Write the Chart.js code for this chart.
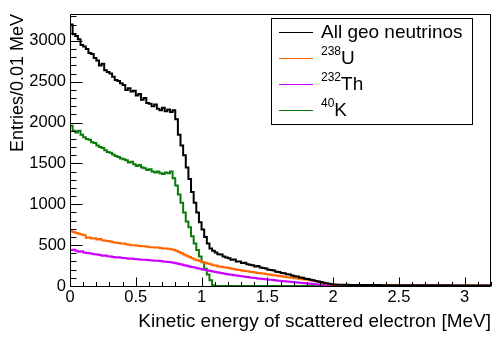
<!DOCTYPE html>
<html>
<head>
<meta charset="utf-8">
<script src="https://cdn.jsdelivr.net/npm/chart.js@4.4.1/dist/chart.umd.min.js"></script>
<style>
  html, body { margin: 0; padding: 0; background: #fff; }
</style>
</head>
<body>
<canvas id="geoChart" width="492" height="338"></canvas>
<script>
// histogram binning (one per 0.02 MeV)
const binWidth = 0.02;
const xMax = 3.2;
const yMax = 3330;
const xTickValues = [0, 0.5, 1, 1.5, 2, 2.5, 3];
const yTickValues = [0, 500, 1000, 1500, 2000, 2500, 3000];

const allGeo = [
    3150, 3200, 3080, 3060, 3020, 2950, 2930, 2900, 2850, 2840,
    2790, 2760, 2700, 2720, 2640, 2620, 2600, 2560, 2520, 2510,
    2480, 2460, 2400, 2420, 2380, 2390, 2330, 2350, 2280, 2300,
    2240, 2230, 2200, 2220, 2170, 2150, 2180, 2140, 2160, 2130,
    2150, 2040, 1850, 1720, 1600, 1450, 1310, 1150, 1020, 900,
    780, 690, 600, 520, 460, 430, 410, 390, 385, 360,
    350, 340, 320, 325, 300, 300, 280, 285, 265, 260,
    255, 240, 245, 225, 220, 215, 200, 195, 190, 175,
    170, 160, 155, 145, 140, 130, 120, 115, 105, 100,
    90, 85, 75, 70, 60, 55, 48, 40, 35, 28,
    22, 18, 16, 15, 15, 14, 14, 13, 13, 13,
    12, 12, 12, 12, 11, 11, 11, 11, 11, 10,
    10, 10, 10, 10, 10, 10, 9, 9, 9, 9,
    9, 9, 9, 9, 9, 8, 8, 8, 8, 8,
    8, 8, 8, 8, 8, 8, 7, 7, 7, 7,
    7, 7, 7, 7, 7, 7, 7, 6, 6, 6
];

const uranium = [
    680, 670, 660, 650, 640, 630, 620, 590, 595, 580,
    585, 570, 575, 560, 555, 550, 545, 535, 530, 525,
    520, 520, 510, 505, 500, 500, 495, 490, 485, 485,
    480, 475, 475, 470, 470, 465, 460, 460, 455, 450,
    445, 430, 415, 400, 385, 370, 355, 340, 325, 315,
    305, 295, 285, 275, 265, 255, 250, 240, 235, 230,
    225, 220, 212, 208, 200, 195, 190, 185, 180, 175,
    170, 165, 160, 155, 152, 148, 142, 138, 132, 128,
    123, 118, 113, 108, 104, 100, 95, 92, 88, 84,
    80, 75, 70, 64, 58, 52, 45, 38, 32, 25,
    20, 16, 14, 13, 13, 12, 12, 11, 11, 11,
    10, 10, 10, 10, 9, 9, 9, 9, 9, 9,
    8, 8, 8, 8, 8, 8, 8, 7, 7, 7,
    7, 7, 7, 7, 7, 7, 6, 6, 6, 6,
    6, 6, 6, 6, 6, 6, 6, 5, 5, 5,
    5, 5, 5, 5, 5, 5, 5, 5, 5, 5
];

const thorium = [
    450, 440, 445, 430, 420, 425, 410, 405, 400, 395,
    390, 385, 380, 370, 372, 365, 360, 355, 350, 352,
    345, 342, 340, 335, 338, 330, 328, 325, 322, 320,
    318, 315, 312, 310, 308, 305, 300, 298, 295, 290,
    285, 278, 270, 262, 255, 248, 240, 233, 226, 218,
    210, 203, 196, 190, 183, 176, 170, 164, 158, 152,
    147, 142, 137, 132, 127, 122, 118, 113, 109, 105,
    101, 97, 93, 89, 86, 82, 78, 75, 72, 68,
    65, 62, 58, 55, 52, 48, 45, 42, 39, 36,
    33, 30, 27, 24, 21, 18, 15, 12, 10, 8,
    6, 5, 5, 4, 4, 4, 4, 3, 3, 3,
    3, 3, 3, 3, 3, 3, 3, 3, 3, 3,
    3, 3, 3, 3, 2, 2, 2, 2, 2, 2,
    2, 2, 2, 2, 2, 2, 2, 2, 2, 2,
    2, 2, 2, 2, 2, 2, 2, 2, 2, 2,
    2, 2, 2, 2, 2, 2, 2, 2, 2, 2
];

const potassium = [
    2000, 1960, 1900, 1880, 1900, 1850, 1820, 1800, 1790, 1760,
    1750, 1720, 1700, 1690, 1660, 1640, 1630, 1610, 1590, 1580,
    1560, 1550, 1540, 1510, 1520, 1490, 1470, 1480, 1450, 1440,
    1420, 1430, 1400, 1390, 1400, 1380, 1370, 1390, 1380, 1400,
    1320, 1230, 1120, 1020, 900, 790, 720, 610, 520, 440,
    360, 290, 210, 140, 70, 10, 0, 0, 0, 0,
    0, 0, 0, 0, 0, 0, 0, 0, 0, 0,
    0, 0, 0, 0, 0, 0, 0, 0, 0, 0,
    0, 0, 0, 0, 0, 0, 0, 0, 0, 0,
    0, 0, 0, 0, 0, 0, 0, 0, 0, 0,
    0, 0, 0, 0, 0, 0, 0, 0, 0, 0,
    0, 0, 0, 0, 0, 0, 0, 0, 0, 0,
    0, 0, 0, 0, 0, 0, 0, 0, 0, 0,
    0, 0, 0, 0, 0, 0, 0, 0, 0, 0,
    0, 0, 0, 0, 0, 0, 0, 0, 0, 0,
    0, 0, 0, 0, 0, 0, 0, 0, 0, 0
];

// legend text: superscript part + main part
const legendSup = ['', '238', '232', '40'];
const legendMain = ['All geo neutrinos', 'U', 'Th', 'K'];
const seriesColors = ['#000000', '#ff6600', '#cc00ff', '#0a7a0a'];

const FONT = '"Liberation Sans", Arial, Helvetica, sans-serif';
Chart.defaults.font.family = FONT;
Chart.defaults.color = '#000';

// bin low edges + closing point at the right end, drawn as steps
function toSteps(values) {
    const pts = values.map((v, i) => ({ x: i * binWidth, y: v }));
    pts.push({ x: xMax, y: values[values.length - 1] });
    return pts;
}

// ROOT-style inward ticks, frame and legend box
const rootAxes = {
    id: 'rootAxes',
    afterDraw(chart) {
        const { ctx, chartArea: a, scales: { x, y } } = chart;
        const L = Math.round(a.left) + 0.5, R = Math.round(a.right) - 0.5;
        const T = Math.round(a.top) + 0.5, B = Math.round(a.bottom) + 0.5;
        ctx.save();
        ctx.strokeStyle = '#000';
        ctx.lineWidth = 1;
        ctx.beginPath();
        ctx.moveTo(L, T); ctx.lineTo(R, T); ctx.lineTo(R, B); ctx.lineTo(L, B); ctx.closePath();
        for (let k = 0; k * 100 <= yMax; k++) {
            const py = Math.round(y.getPixelForValue(k * 100)) + 0.5;
            const len = k % 5 === 0 ? 12 : 6;
            ctx.moveTo(L, py); ctx.lineTo(L + len, py);
        }
        for (let k = 0; k <= 32; k++) {
            const px = Math.round(x.getPixelForValue(k / 10)) + 0.5;
            const len = k % 5 === 0 ? 9 : 4.5;
            ctx.moveTo(px, B); ctx.lineTo(px, B - len);
        }
        ctx.stroke();

        // legend
        const bx = 271.5, by = 18.5, bw = 201, bh = 106, rowH = 26;
        ctx.fillStyle = '#fff';
        ctx.fillRect(bx, by, bw, bh);
        ctx.strokeRect(bx, by, bw, bh);
        chart.data.datasets.forEach((ds, i) => {
            const cy = 32 + i * rowH;
            ctx.strokeStyle = ds.borderColor;
            ctx.lineWidth = 1.2;
            ctx.beginPath();
            ctx.moveTo(279, cy + 0.5); ctx.lineTo(313, cy + 0.5);
            ctx.stroke();
            ctx.fillStyle = '#000';
            ctx.textBaseline = 'middle';
            let tx = 321;
            if (legendSup[i]) {
                ctx.font = '12px ' + FONT;
                ctx.fillText(legendSup[i], tx, cy - 6);
                tx += ctx.measureText(legendSup[i]).width;
            }
            ctx.font = '19px ' + FONT;
            ctx.fillText(legendMain[i], tx, cy + 1);
        });
        ctx.restore();
    }
};

new Chart(document.getElementById('geoChart'), {
    type: 'line',
    data: {
        datasets: [allGeo, uranium, thorium, potassium].map((vals, i) => ({
            label: legendSup[i] + legendMain[i],
            data: toSteps(vals),
            borderColor: seriesColors[i],
            borderWidth: 2,
            stepped: 'after',
            pointRadius: 0,
            fill: false,
        })),
    },
    options: {
        responsive: false,
        animation: false,
        devicePixelRatio: 1,
        layout: { padding: { top: 2, right: 1, left: 0, bottom: 0 } },
        plugins: { legend: { display: false }, tooltip: { enabled: false } },
        scales: {
            x: {
                type: 'linear', min: 0, max: xMax,
                grid: { display: false, drawTicks: false },
                border: { display: false },
                afterBuildTicks: s => { s.ticks = xTickValues.map(v => ({ value: v })); },
                ticks: {
                    maxRotation: 0, autoSkip: false,
                    padding: 2, font: { size: 16.5 },
                    callback: v => String(v),
                },
                title: {
                    display: true, text: 'Kinetic energy of scattered electron [MeV]',
                    align: 'end', font: { size: 19 }, padding: { top: 0, bottom: 5 },
                },
                afterFit: s => { s.height = 52; },
            },
            y: {
                min: 0, max: yMax,
                grid: { display: false, drawTicks: false },
                border: { display: false },
                afterBuildTicks: s => { s.ticks = yTickValues.map(v => ({ value: v })); },
                ticks: {
                    autoSkip: false, padding: 4, font: { size: 16.5 },
                    callback: v => String(v),
                },
                title: {
                    display: true, text: 'Entries/0.01 MeV',
                    align: 'end', font: { size: 18 }, padding: { top: 7, bottom: 0 },
                },
                afterFit: s => { s.width = 70; },
            },
        },
    },
    plugins: [rootAxes],
});
</script>
</body>
</html>
